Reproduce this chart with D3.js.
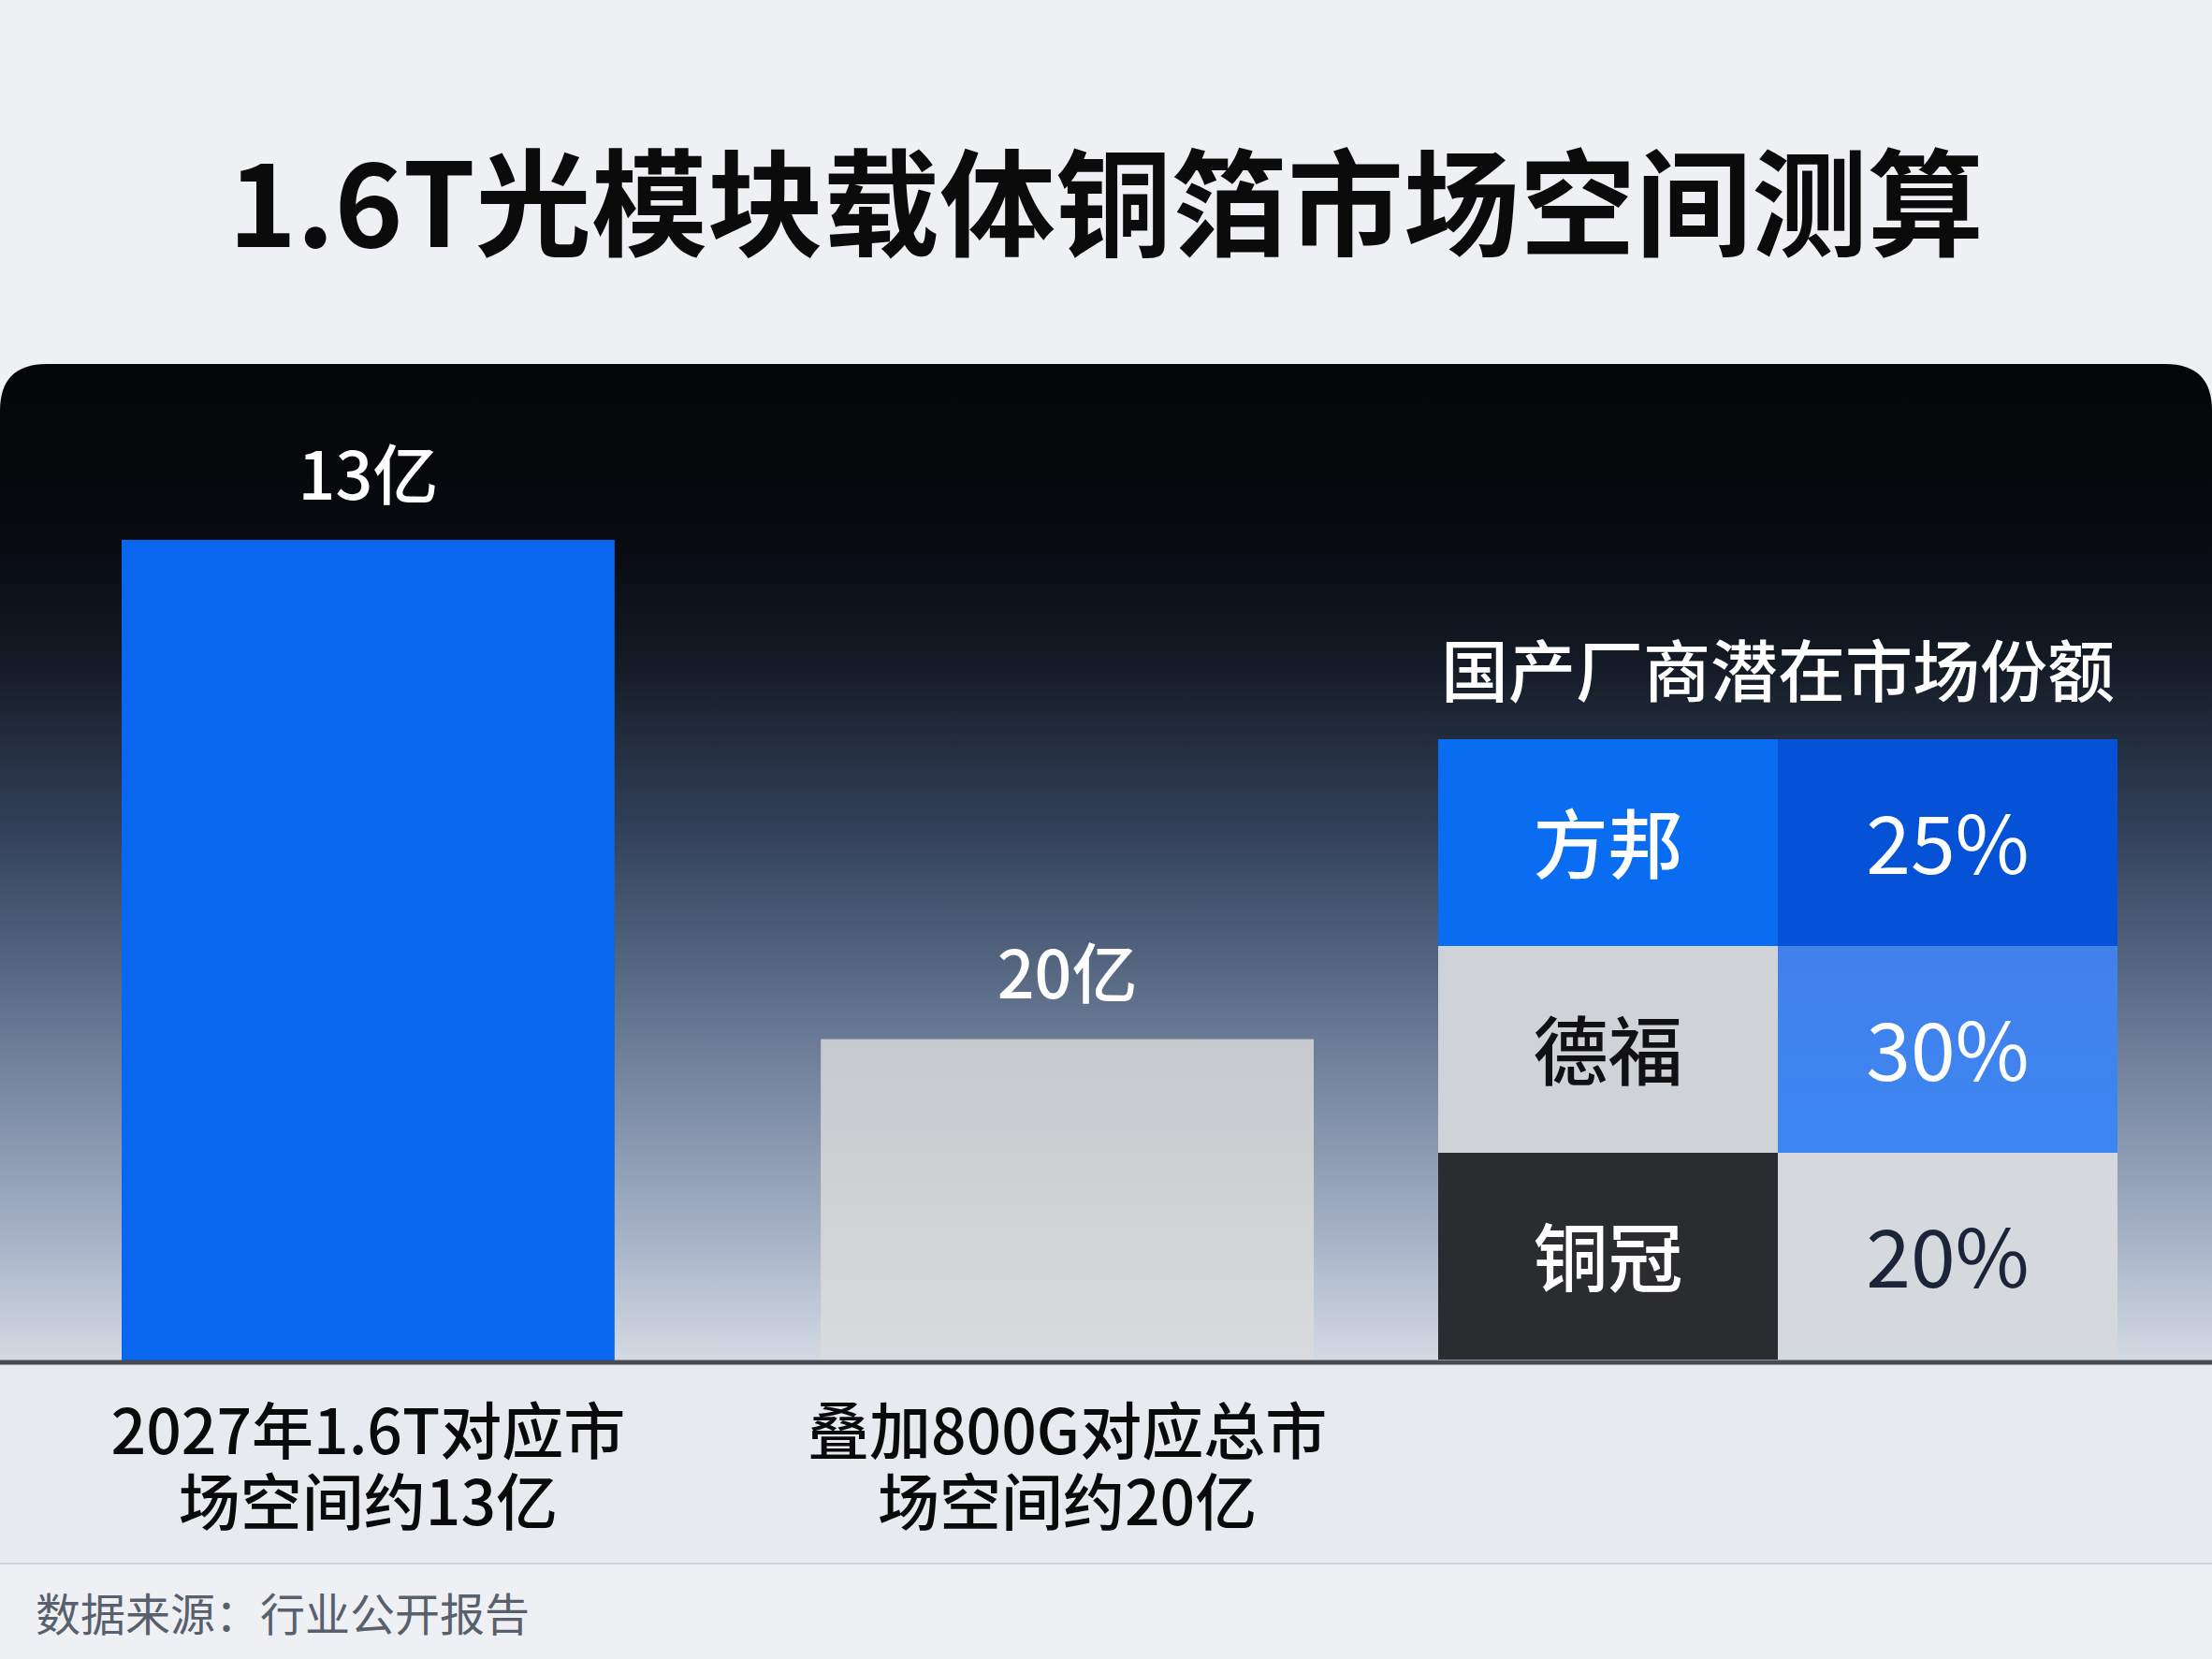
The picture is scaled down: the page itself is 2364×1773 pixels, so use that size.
<!DOCTYPE html>
<html><head><meta charset="utf-8">
<script src="https://cdn.jsdelivr.net/npm/d3@7"></script>
<style>html,body{margin:0;padding:0;background:#eef0f3;}svg{display:block;}</style>
</head><body>
<svg id="chart" width="2364" height="1773"></svg>
<script>
// ---- data ----
const title = "1.6T光模块载体铜箔市场空间测算";
const categories = ["2027年1.6T对应市场空间约13亿", "叠加800G对应总市场空间约20亿"];
const categoryLines = [["2027年1.6T对应市", "场空间约13亿"], ["叠加800G对应总市", "场空间约20亿"]];
const marketValues = [13, 20];            // 亿, as labelled
const valueLabels = ["13亿", "20亿"];
const drawnHeights = [13, 5.1];           // bar heights as drawn in the picture (same units as first bar)
const tableTitle = "国产厂商潜在市场份额";
const companies = ["方邦", "德福", "铜冠"];
const shares = [25, 30, 20];
const source = "数据来源：行业公开报告";

// ---- layout ----
const W = 2364, H = 1773;
const baseY = 1455, panelTop = 389;
const svg = d3.select("#chart");
const FONT = "'Noto Sans CJK SC','Noto Sans',sans-serif";

const defs = svg.append("defs");
const grad = defs.append("linearGradient").attr("id", "panelGrad").attr("x1", 0).attr("y1", 0).attr("x2", 0).attr("y2", 1);
[[0, "#040507"], [0.18, "#080b10"], [0.3, "#141b26"], [0.47, "#33425a"], [0.6, "#546580"], [0.73, "#7a8aa3"], [0.87, "#a4b1c5"], [1, "#d3dae3"]]
  .forEach(([o, c]) => grad.append("stop").attr("offset", o).attr("stop-color", c));
const barGrad = defs.append("linearGradient").attr("id", "grayGrad").attr("x1", 0).attr("y1", 0).attr("x2", 0).attr("y2", 1);
barGrad.append("stop").attr("offset", 0).attr("stop-color", "#c6c9cd");
barGrad.append("stop").attr("offset", 1).attr("stop-color", "#d9dbde");
const blueGrad = defs.append("linearGradient").attr("id", "blue30").attr("x1", 0).attr("y1", 0).attr("x2", 0).attr("y2", 1);
blueGrad.append("stop").attr("offset", 0).attr("stop-color", "#4280ea");
blueGrad.append("stop").attr("offset", 1).attr("stop-color", "#3c86f2");

// background
svg.append("rect").attr("width", W).attr("height", H).attr("fill", "#eef0f3");
svg.append("rect").attr("x", 0).attr("y", baseY).attr("width", W).attr("height", 1671 - baseY).attr("fill", "#e7eaee");
svg.append("line").attr("x1", 0).attr("x2", W).attr("y1", 1671).attr("y2", 1671).attr("stroke", "#cfd3d9").attr("stroke-width", 2);

// title
svg.append("text").attr("x", W / 2).attr("y", 210).attr("text-anchor", "middle").attr("dominant-baseline", "central")
  .attr("font-family", FONT).attr("font-weight", 700).attr("font-size", 124).attr("fill", "#0b0b0c").text(title);

// panel with rounded top corners
const r = 50;
svg.append("path").attr("d",
  `M0,${baseY} L0,${panelTop + r} Q0,${panelTop} ${r},${panelTop} L${W - r},${panelTop} Q${W},${panelTop} ${W},${panelTop + r} L${W},${baseY} Z`)
  .attr("fill", "url(#panelGrad)");

// scales
const x = d3.scaleBand().domain(categories).range([130, 1404]).paddingInner(0.2949).paddingOuter(0);
const y = d3.scaleLinear().domain([0, 13]).range([baseY, 577]);
const barFills = ["#0967ef", "url(#grayGrad)"];

svg.append("g").selectAll("rect").data(categories).join("rect")
  .attr("x", d => x(d)).attr("width", x.bandwidth())
  .attr("y", (d, i) => y(drawnHeights[i])).attr("height", (d, i) => y(0) - y(drawnHeights[i]))
  .attr("fill", (d, i) => barFills[i]);

svg.append("g").selectAll("text").data(categories).join("text")
  .attr("x", d => x(d) + x.bandwidth() / 2).attr("y", (d, i) => y(drawnHeights[i]) - 74)
  .attr("text-anchor", "middle").attr("dominant-baseline", "central")
  .attr("font-family", FONT).attr("font-weight", 500).attr("font-size", 70).attr("fill", "#ffffff")
  .text((d, i) => valueLabels[i]);

// baseline
svg.append("line").attr("x1", 0).attr("x2", W).attr("y1", baseY + 1).attr("y2", baseY + 1).attr("stroke", "#464b54").attr("stroke-width", 5);

// category labels (two lines each)
const labG = svg.append("g");
categories.forEach((c, i) => {
  categoryLines[i].forEach((t, j) => {
    labG.append("text").attr("x", x(c) + x.bandwidth() / 2).attr("y", 1525 + j * 76)
      .attr("text-anchor", "middle").attr("dominant-baseline", "central")
      .attr("font-family", FONT).attr("font-weight", 500).attr("font-size", 66).attr("fill", "#0a0a0b").text(t);
  });
});

// table
svg.append("text").attr("x", 1900).attr("y", 712).attr("text-anchor", "middle").attr("dominant-baseline", "central")
  .attr("font-family", FONT).attr("font-weight", 500).attr("font-size", 72).attr("fill", "#ffffff").text(tableTitle);

const rowY = d3.scaleBand().domain(companies).range([790, 1453]);
const colX = d3.scaleBand().domain(["name", "share"]).range([1537, 2263]);
const nameFill = ["#0a6cf1", "#cfd2d6", "#2a2c30"];
const nameText = ["#ffffff", "#111114", "#ffffff"];
const shareFill = ["#0652d6", "url(#blue30)", "#d5d8dd"];
const shareText = ["#ffffff", "#ffffff", "#1b2439"];

const rows = svg.append("g").selectAll("g").data(companies).join("g").attr("transform", d => `translate(0,${rowY(d)})`);
rows.append("rect").attr("x", colX("name")).attr("width", colX.bandwidth()).attr("height", rowY.bandwidth()).attr("fill", (d, i) => nameFill[i]);
rows.append("rect").attr("x", colX("share")).attr("width", colX.bandwidth()).attr("height", rowY.bandwidth()).attr("fill", (d, i) => shareFill[i]);
rows.append("text").attr("x", colX("name") + colX.bandwidth() / 2).attr("y", rowY.bandwidth() / 2 - 4)
  .attr("text-anchor", "middle").attr("dominant-baseline", "central").attr("font-family", FONT).attr("font-weight", 500)
  .attr("font-size", 80).attr("fill", (d, i) => nameText[i]).text(d => d);
rows.append("text").attr("x", colX("share") + colX.bandwidth() / 2).attr("y", rowY.bandwidth() / 2 - 4)
  .attr("text-anchor", "middle").attr("dominant-baseline", "central").attr("font-family", FONT).attr("font-weight", 400)
  .attr("font-size", 86).attr("fill", (d, i) => shareText[i]).text((d, i) => shares[i] + "%");

// source
svg.append("text").attr("x", 38).attr("y", 1722).attr("dominant-baseline", "central")
  .attr("font-family", FONT).attr("font-weight", 400).attr("font-size", 48).attr("fill", "#58606d").text(source);
</script>
</body></html>
